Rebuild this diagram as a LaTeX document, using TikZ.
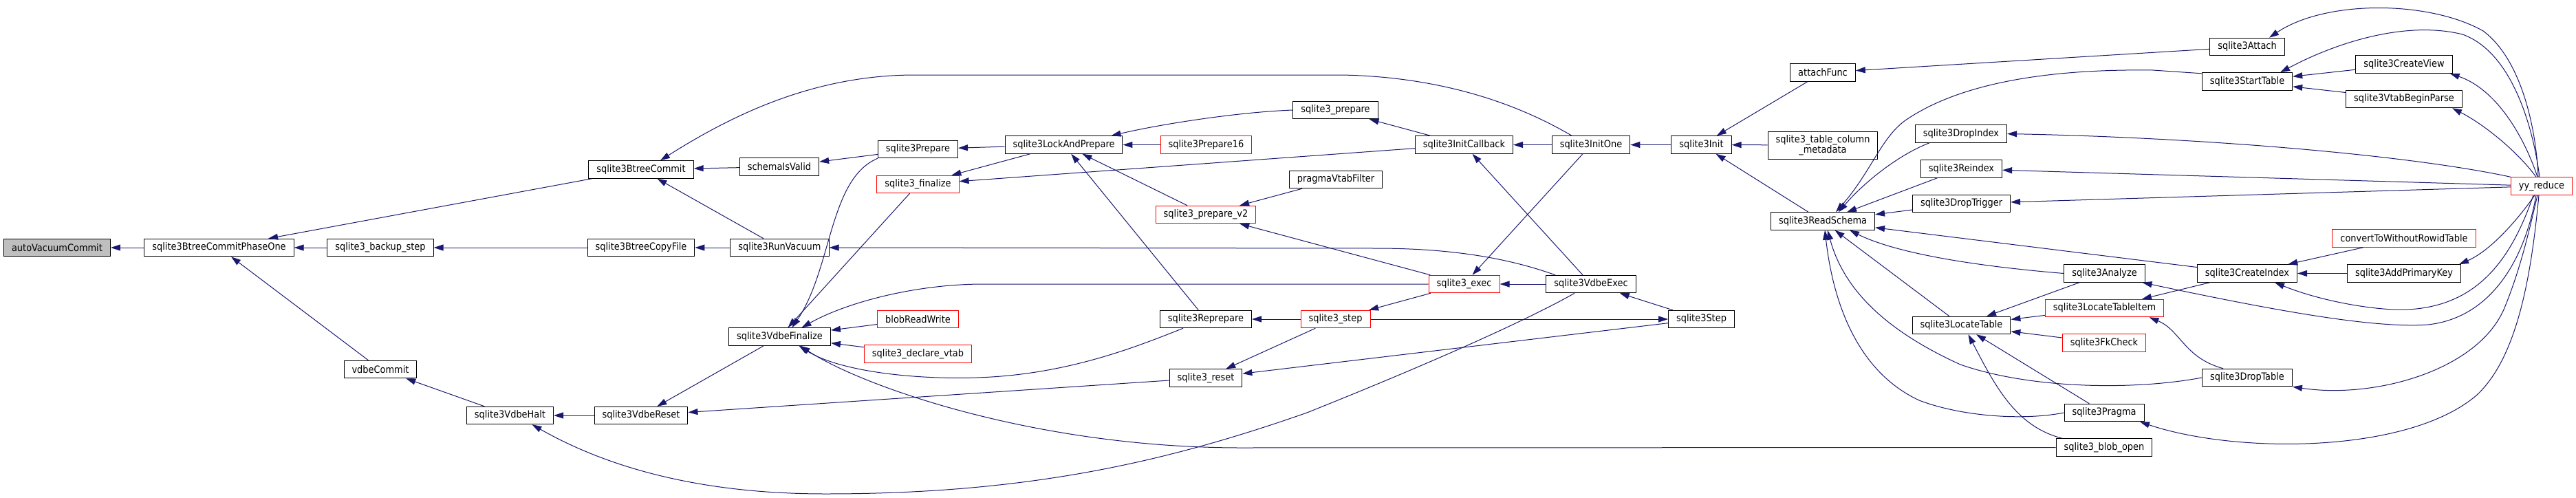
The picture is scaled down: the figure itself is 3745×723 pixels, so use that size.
\documentclass[tikz,border=0pt]{standalone}
\usepackage{fontspec}
\setmainfont{DejaVu Sans Condensed}
\usetikzlibrary{arrows.meta}
\definecolor{edgeblue}{HTML}{191970}
\definecolor{nodegray}{HTML}{BFBFBF}

\begin{document}
\begin{tikzpicture}[x=1pt,y=-1pt,
  fn/.style={draw=black,line width=1pt,rectangle,minimum height=25.5pt,inner xsep=11.5pt,inner ysep=0pt,font=\fontsize{14.4}{14.3}\selectfont},
  fnred/.style={fn,draw=red},
  fnroot/.style={fn,fill=nodegray},
  call/.style={{Triangle[length=14pt,width=9pt]}-,draw=edgeblue,fill=none,line width=1pt}]
\path[use as bounding box,fill=white] (0,0) rectangle (3745,723);

\node[fnroot] (avc) at (83,360) {autoVacuumCommit};
\node[fn] (phaseone) at (318.5,360) {sqlite3BtreeCommitPhaseOne};
\node[fn] (backupstep) at (553,360) {sqlite3\_backup\_step};
\node[fn] (vdbecommit) at (553,537) {vdbeCommit};
\node[fn] (btreecommit) at (932,246.5) {sqlite3BtreeCommit};
\node[fn] (schemavalid) at (1133,242.5) {schemaIsValid};
\node[fn] (copyfile) at (932,360) {sqlite3BtreeCopyFile};
\node[fn] (runvacuum) at (1133.5,360) {sqlite3RunVacuum};
\node[fn] (finalize) at (1133.5,489.5) {sqlite3VdbeFinalize};
\node[fn] (vdbehalt) at (741.5,604) {sqlite3VdbeHalt};
\node[fn] (vdbereset) at (932,604) {sqlite3VdbeReset};
\node[fn] (prepare) at (1334.5,217) {sqlite3Prepare};
\node[fn] (lockprep) at (1546.5,210.5) {sqlite3LockAndPrepare};
\node[fnred] (prep16) at (1753.5,210.5) {sqlite3Prepare16};
\node[fnred] (apifinal) at (1334.5,268) {sqlite3\_finalize};
\node[fnred] (prepv2) at (1753,312) {sqlite3\_prepare\_v2};
\node[fn] (vtabfilter) at (1942,261) {pragmaVtabFilter};
\node[fnred] (blobrw) at (1334.5,464) {blobReadWrite};
\node[fnred] (declvtab) at (1334.5,514.5) {sqlite3\_declare\_vtab};
\node[fn] (reprepare) at (1753,464) {sqlite3Reprepare};
\node[fn] (apireset) at (1753,549.5) {sqlite3\_reset};
\node[fn] (apiprep) at (1941.5,160) {sqlite3\_prepare};
\node[fn] (initcb) at (2128.5,210.5) {sqlite3InitCallback};
\node[fn] (initone) at (2313,210.5) {sqlite3InitOne};
\node[fn] (init) at (2473.5,210.5) {sqlite3Init};
\node[fnred] (apiexec) at (2128.5,413) {sqlite3\_exec};
\node[fn] (vdbeexec) at (2313,413) {sqlite3VdbeExec};
\node[fnred] (apistep) at (1941.5,464) {sqlite3\_step};
\node[fn] (step) at (2473.5,464) {sqlite3Step};
\node[fn] (attachfunc) at (2650,105.5) {attachFunc};
\node[fn,align=center,minimum height=40pt] (colmeta) at (2650,211) {sqlite3\_table\_column\\\_metadata};
\node[fn] (readschema) at (2650,321.5) {sqlite3ReadSchema};
\node[fn] (dropindex) at (2851,194.5) {sqlite3DropIndex};
\node[fn] (reindex) at (2851.5,245.5) {sqlite3Reindex};
\node[fn] (droptrigger) at (2851.5,296) {sqlite3DropTrigger};
\node[fn] (analyze) at (3059.5,397.5) {sqlite3Analyze};
\node[fnred] (locitem) at (3059.5,448) {sqlite3LocateTableItem};
\node[fn] (locate) at (2851.5,473) {sqlite3LocateTable};
\node[fnred] (fkcheck) at (3059,498.5) {sqlite3FkCheck};
\node[fn] (pragma) at (3059,600) {sqlite3Pragma};
\node[fn] (blobopen) at (3059,650.5) {sqlite3\_blob\_open};
\node[fn] (attach) at (3267,68) {sqlite3Attach};
\node[fn] (starttable) at (3267,118.5) {sqlite3StartTable};
\node[fn] (createview) at (3495,93.5) {sqlite3CreateView};
\node[fn] (vtabbegin) at (3495,144) {sqlite3VtabBeginParse};
\node[fnred] (yyreduce) at (3695,270.5) {yy\_reduce};
\node[fnred] (convert) at (3495,346.5) {convertToWithoutRowidTable};
\node[fn] (createindex) at (3267,397.5) {sqlite3CreateIndex};
\node[fn] (addpk) at (3495,397.5) {sqlite3AddPrimaryKey};
\node[fn] (droptable) at (3267,549) {sqlite3DropTable};

\draw[call] (avc) -- (phaseone);
\draw[call] (phaseone) -- (backupstep);
\draw[call] (phaseone) -- (btreecommit);
\draw[call] (phaseone) -- (vdbecommit);
\draw[call] (backupstep) -- (copyfile);
\draw[call] (vdbecommit) -- (vdbehalt);
\draw[call] (btreecommit) -- (schemavalid);
\draw[call] (btreecommit) -- (runvacuum);
\draw[call] ([xshift=28pt]btreecommit.north) .. controls (1060,170) and (1180,109) .. (1330,109) -- (1950,109) .. controls (2120,112) and (2230,165) .. ([xshift=-28pt]initone.north);
\draw[call] (copyfile) -- (runvacuum);
\draw[call] (runvacuum.east) -- (2000,361) .. controls (2120,361) and (2200,378) .. ([xshift=-52pt]vdbeexec.north);
\draw[call] (vdbehalt) -- (vdbereset);
\draw[call] ([xshift=32pt]vdbehalt.south) .. controls (870,672) and (1000,718) .. (1200,718) .. controls (1500,718) and (1700,670) .. (1900,600) .. controls (2100,520) and (2230,460) .. ([xshift=-24pt]vdbeexec.south);
\draw[call] (vdbereset) -- (finalize);
\draw[call] (vdbereset) -- (apireset);
\draw[call] ([xshift=18pt]finalize.north) .. controls (1210,390) and (1205,260) .. (prepare.south west);
\draw[call] (finalize) -- (apifinal);
\draw[call] ([xshift=32pt]finalize.north) .. controls (1230,440) and (1330,413) .. (1430,413) -- (apiexec.west);
\draw[call] (finalize) -- (blobrw);
\draw[call] (finalize) -- (declvtab);
\draw[call] ([xshift=28pt]finalize.south) .. controls (1220,540) and (1330,552) .. (1420,549) .. controls (1550,545) and (1650,505) .. ([xshift=-33pt]reprepare.south);
\draw[call] ([xshift=30pt]finalize.south) .. controls (1250,560) and (1500,650) .. (1800,651) -- (blobopen.west);
\draw[call] (prepare) -- (lockprep);
\draw[call] (schemavalid) -- (prepare);
\draw[call] (apifinal) -- (lockprep);
\draw[call] (apifinal) -- (initcb);
\draw[call] (lockprep) -- (prep16);
\draw[call] ([xshift=69pt]lockprep.north) .. controls (1690,180) and (1800,163) .. (apiprep.west);
\draw[call] (lockprep) -- (prepv2);
\draw[call] (lockprep) -- (reprepare);
\draw[call] (prepv2) -- (vtabfilter);
\draw[call] (prepv2) -- (apiexec);
\draw[call] (apiprep) -- (initcb);
\draw[call] (initcb) -- (initone);
\draw[call] (initcb) -- (vdbeexec);
\draw[call] (initone) -- (init);
\draw[call] (apiexec) -- (initone);
\draw[call] (apiexec) -- (vdbeexec);
\draw[call] (apistep) -- (apiexec);
\draw[call] (step) -- (apistep);
\draw[call] (vdbeexec) -- (step);
\draw[call] (apireset) -- (step);
\draw[call] (reprepare) -- (apistep);
\draw[call] (apireset) -- (apistep);
\draw[call] (init) -- (attachfunc);
\draw[call] (init) -- (colmeta);
\draw[call] (init) -- (readschema);
\draw[call] (attachfunc) -- (attach);
\draw[call] ([xshift=19pt]readschema.north) .. controls (2720,250) and (2735,200) .. (2770,175) .. controls (2850,120) and (2980,100) .. (3130,102) -- (starttable.170);
\draw[call] ([xshift=23pt]readschema.north) .. controls (2710,265) and (2760,225) .. ([xshift=-46pt]dropindex.south);
\draw[call] (readschema) -- (reindex);
\draw[call] (readschema) -- (droptrigger);
\draw[call] (readschema) -- (createindex);
\draw[call] ([xshift=39pt]readschema.south) .. controls (2750,365) and (2850,385) .. (analyze.west);
\draw[call] (readschema) -- (locate);
\draw[call] ([xshift=7pt]readschema.south) .. controls (2680,420) and (2740,480) .. (2850,530) .. controls (2950,565) and (3100,568) .. (droptable.west);
\draw[call] ([xshift=3pt]readschema.south) .. controls (2665,440) and (2700,540) .. (2790,582) .. controls (2850,605) and (2940,612) .. (pragma.west);
\draw[call] (locate) -- (analyze);
\draw[call] (locate) -- (locitem);
\draw[call] (locate) -- (fkcheck);
\draw[call] (locate) -- (pragma);
\draw[call] ([xshift=10pt]locate.south) .. controls (2900,560) and (2930,620) .. ([xshift=-61pt]blobopen.north);
\draw[call] ([xshift=55pt]analyze.south) .. controls (3300,450) and (3450,478) .. (3530,472) .. controls (3620,462) and (3670,380) .. ([xshift=-8pt]yyreduce.south);
\draw[call] (locitem) -- (createindex);
\draw[call] ([xshift=65pt]locitem.south) .. controls (3170,480) and (3175,520) .. ([xshift=-35pt]droptable.north);
\draw[call] (createindex) -- (addpk);
\draw[call] (createindex) -- (convert);
\draw[call] ([xshift=40pt]createindex.south) .. controls (3380,440) and (3460,452) .. (3500,450) .. controls (3600,445) and (3650,380) .. ([xshift=-12pt]yyreduce.south);
\draw[call] ([xshift=80pt]addpk.north) .. controls (3620,365) and (3660,320) .. ([xshift=-10pt]yyreduce.south);
\draw[call] (droptable.south east) .. controls (3450,580) and (3600,540) .. (3640,450) .. controls (3665,390) and (3678,330) .. ([xshift=-6pt]yyreduce.south);
\draw[call] ([xshift=52pt]pragma.south) .. controls (3250,660) and (3500,660) .. (3600,575) .. controls (3660,520) and (3680,400) .. ([xshift=-4pt]yyreduce.south);
\draw[call] ([xshift=32pt]attach.north) .. controls (3380,0) and (3530,0) .. (3610,45) .. controls (3670,90) and (3688,200) .. ([xshift=-5pt]yyreduce.north);
\draw[call] ([xshift=48pt]starttable.north) .. controls (3400,60) and (3500,30) .. (3580,50) .. controls (3650,75) and (3682,180) .. ([xshift=-3pt]yyreduce.north);
\draw[call] ([xshift=-4pt]createview.south east) .. controls (3630,130) and (3670,200) .. ([xshift=-6pt]yyreduce.north);
\draw[call] ([xshift=70pt]vtabbegin.south) .. controls (3610,180) and (3660,220) .. ([xshift=-8pt]yyreduce.north);
\draw[call] (starttable) -- (createview);
\draw[call] (starttable) -- (vtabbegin);
\draw[call] (dropindex.east) .. controls (3200,200) and (3500,225) .. (yyreduce.north west);
\draw[call] (reindex) -- (yyreduce);
\draw[call] (droptrigger) -- (yyreduce);
\end{tikzpicture}
\end{document}
